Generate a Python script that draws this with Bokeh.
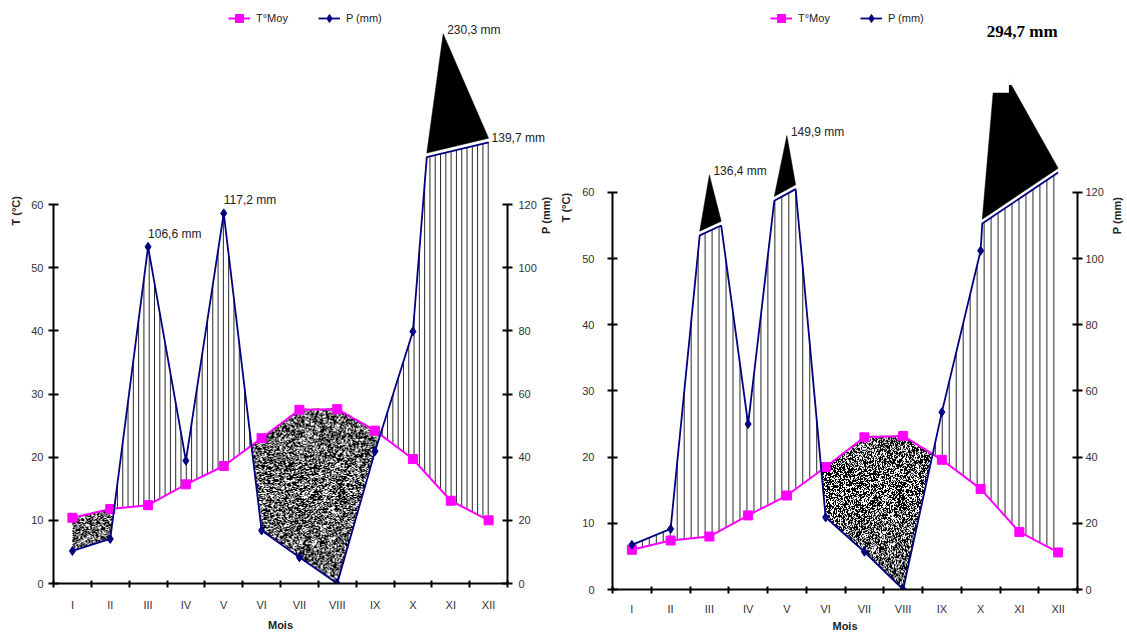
import numpy as np
from bokeh.plotting import figure
from bokeh.layouts import row
from bokeh.models import Range1d, LinearAxis, FixedTicker, Label, Legend, LegendItem
from bokeh.embed import file_html
from bokeh.resources import INLINE

MONTHS = ["I", "II", "III", "IV", "V", "VI", "VII", "VIII", "IX", "X", "XI", "XII"]

# Station 1 (left diagram): mean monthly temperature (°C) and rainfall (mm)
temp_1 = [10.4, 11.8, 12.4, 15.7, 18.6, 23.0, 27.5, 27.6, 24.2, 19.7, 13.1, 10.0]
rain_1 = [10.3, 14.1, 106.6, 38.9, 117.2, 16.8, 8.3, 0.0, 41.9, 79.8, 230.3, 139.7]
labelled_1 = [2, 4, 10, 11]

# Station 2 (right diagram)
temp_2 = [6.0, 7.4, 8.0, 11.2, 14.2, 18.5, 23.0, 23.2, 19.6, 15.2, 8.7, 5.6]
rain_2 = [13.5, 18.3, 136.4, 50.0, 149.9, 21.8, 11.4, 0.0, 53.6, 102.4, 294.7, 126.0]
labelled_2 = [2, 4, 10]

# Rainfall peaks drawn on a broken scale: month -> (level where the cut starts,
# level where it ends; None = the cut runs to the last month)
caps_1 = {10: (135.0, None)}
caps_2 = {2: (107.0, 110.0), 4: (117.5, 121.0), 10: (110.6, None)}

FONT = "Liberation Sans"
T_COLOR = "#FF00FF"
P_COLOR = "#000080"
TEXT_COLOR = "#222222"


def fmt_mm(v):
    return f"{v:.1f}".replace(".", ",") + " mm"


def clip_profile(rain, caps):
    """Rainfall polyline with the broken-scale peaks flattened by a cut line."""
    verts, cuts, kept = [], [], []
    i = 0
    while i < 12:
        if i in caps:
            a, b = caps[i]
            xl = i - 1 + (a - rain[i - 1]) / (rain[i] - rain[i - 1]) + 0.5
            if b is None:
                xr, b, nxt = 11.5, rain[11], 12
            else:
                xr = i + (rain[i] - b) / (rain[i] - rain[i + 1]) + 0.5
                nxt = i + 1
            verts += [(xl, a), (xr, b)]
            cuts.append((i, xl, a, xr, b))
            i = nxt
        else:
            verts.append((i + 0.5, rain[i]))
            kept.append(i)
            i += 1
    return verts, cuts, kept


def stipple(prof_x, prof_y, temp, cols_per_month, rows_per_mm, top):
    centers = np.arange(12) + 0.5
    ncols = int(round(11 * cols_per_month))
    nrows = int(round(top * rows_per_mm))
    xs = 0.5 + (np.arange(ncols) + 0.5) * 11.0 / ncols
    ys = (np.arange(nrows) + 0.5) * top / nrows
    wet = np.interp(xs, prof_x, prof_y)
    dry = np.interp(xs, centers, 2 * np.asarray(temp))
    inside = (ys[:, None] > wet[None, :]) & (ys[:, None] < dry[None, :])
    jj, ii = np.meshgrid(np.arange(ncols), np.arange(nrows))
    h = np.sin(jj * 12.9898 + ii * 78.233) * 43758.5453
    h = h - np.floor(h)
    shade = np.where(h < 0.58, 0, 255).astype(np.uint8)
    rgba = np.zeros((nrows, ncols, 4), dtype=np.uint8)
    rgba[..., 0] = shade
    rgba[..., 1] = shade
    rgba[..., 2] = shade
    rgba[..., 3] = np.where(inside, 255, 0).astype(np.uint8)
    return rgba.view(np.uint32).reshape(nrows, ncols)


def side_text(p, side, text, x, y, angle=0.0, **kw):
    style = dict(text_font=FONT, text_font_size="11px", text_font_style="bold",
                 text_color=TEXT_COLOR, text_align="center", text_baseline="middle")
    style.update(kw)
    p.add_layout(Label(x=x, y=y, text=text, angle=angle, **style), side)


def build_panel(temp, rain, caps, labelled, cfg):
    centers = np.arange(12) + 0.5
    t_top = cfg["t_top"]
    p = figure(title=None, frame_width=cfg["fw"], frame_height=cfg["fh"],
               x_range=Range1d(0, 12), y_range=Range1d(0, t_top),
               min_border_left=cfg["bl"], min_border_right=cfg["br"],
               min_border_top=0, min_border_bottom=cfg["bb"],
               output_backend="svg", toolbar_location=None)
    p.extra_y_ranges = {"p": Range1d(0, 2 * t_top)}
    p.outline_line_color = None
    p.xgrid.visible = False
    p.ygrid.visible = False
    p.background_fill_color = "white"

    # axes
    xa = p.xaxis[0]
    xa.ticker = FixedTicker(ticks=list(centers), minor_ticks=list(range(13)))
    xa.major_label_overrides = {float(c): m for c, m in zip(centers, MONTHS)}
    xa.major_tick_line_color = None
    xa.major_tick_out = 4
    xa.major_tick_in = 0
    xa.minor_tick_in = 3
    xa.minor_tick_out = 4
    xa.minor_tick_line_width = 2
    xa.minor_tick_line_color = "black"
    xa.major_label_standoff = cfg["xstand"]
    xa.axis_label = "Mois"
    xa.axis_label_standoff = cfg["mstand"]
    xa.axis_label_text_font = FONT
    xa.axis_label_text_font_size = "11px"
    xa.axis_label_text_font_style = "bold"
    xa.axis_label_text_color = TEXT_COLOR

    ya = p.yaxis[0]
    ya.ticker = FixedTicker(ticks=[0, 10, 20, 30, 40, 50, 60])
    ya.bounds = (0, 60)
    ya.major_label_standoff = cfg["ylstand"]

    ra = LinearAxis(y_range_name="p", ticker=FixedTicker(ticks=[0, 20, 40, 60, 80, 100, 120]),
                    bounds=(0, 120))
    ra.major_label_standoff = cfg["yrstand"]
    p.add_layout(ra, "right")

    for ax in (xa, ya, ra):
        ax.axis_line_width = 2
        ax.axis_line_color = "black"
        ax.major_label_text_font = FONT
        ax.major_label_text_font_size = "11px"
        ax.major_label_text_color = "#333333"
    for ax in (ya, ra):
        ax.major_tick_in = 5
        ax.major_tick_out = 5
        ax.major_tick_line_width = 2
        ax.major_tick_line_color = "black"
        ax.minor_tick_line_color = None

    # broken-scale rainfall profile
    verts, cuts, kept = clip_profile(rain, caps)
    vx = [v[0] for v in verts]
    vy = [v[1] for v in verts]

    # dry period (P < 2T): stippled
    top = 2 * max(temp) + 4
    img = stipple(vx, vy, temp, cfg["ppm"], cfg["ppmm"], top)
    p.image_rgba(image=[img], x=0.5, y=0, dw=11, dh=top, y_range_name="p")

    # humid period (P > 2T): vertical hatching
    hx = np.arange(0.5 + cfg["step"] * 0.5, 11.5, cfg["step"])
    lo = np.interp(hx, centers, 2 * np.asarray(temp))
    hi = np.interp(hx, vx, vy)
    keep = hi - lo > 0.6
    p.segment(x0=hx[keep], y0=lo[keep], x1=hx[keep], y1=hi[keep],
              line_color="#2a2a2a", line_width=1, y_range_name="p")

    # the part of each peak above the cut, drawn compressed
    gap = 1.3
    apexes = {}
    for (k, xl, a, xr, b) in cuts:
        cut_k = a + (b - a) * (k + 0.5 - xl) / (xr - xl)
        ay = cut_k + cfg["c"] * np.sqrt(rain[k] - cut_k)
        ax_ = k + 0.5 + cfg["shift"].get(k, 0.0)
        apexes[k] = (ax_, ay)
        p.patch(x=[xl, ax_, xr], y=[a + gap, ay, b + gap], fill_color="black",
                line_color="black", line_width=0.5, y_range_name="p")
        for (dx0, dx1, dy) in cfg["covers"].get(k, []):
            p.quad(left=ax_ + dx0, right=ax_ + dx1, bottom=ay - dy, top=2 * t_top,
                   fill_color="white", line_color=None, y_range_name="p")

    # curves
    t_line = p.line(x=centers, y=temp, line_color=T_COLOR, line_width=2)
    t_marks = p.scatter(x=centers, y=temp, marker="square", size=9,
                        fill_color=T_COLOR, line_color=T_COLOR)
    p_line = p.line(x=vx, y=vy, line_color=P_COLOR, line_width=1.8, y_range_name="p")
    p_marks = p.scatter(x=[k + 0.5 for k in kept], y=[rain[k] for k in kept],
                        marker="diamond", size=9, fill_color=P_COLOR,
                        line_color=P_COLOR, y_range_name="p")

    legend = Legend(items=[LegendItem(label="T°Moy", renderers=[t_line, t_marks]),
                           LegendItem(label="P (mm)", renderers=[p_line, p_marks])],
                    location=cfg["legend"], orientation="horizontal",
                    glyph_width=22, glyph_height=20, label_standoff=6, spacing=30,
                    padding=0, margin=0, border_line_color=None,
                    background_fill_alpha=0, label_text_font=FONT,
                    label_text_font_size="11px", label_text_color=TEXT_COLOR)
    p.add_layout(legend)

    # value labels on the rainfall peaks
    for k in labelled:
        style = dict(text_font=FONT, text_font_size="12px", text_color=TEXT_COLOR,
                     text_align="left", text_baseline="middle")
        side = None
        if k in apexes:
            x, y = apexes[k]
            dx, dy = 4, 4
            if k in cfg["bold"]:
                dx, dy = cfg["bold"][k]
                style.update(text_font="Liberation Serif", text_font_size="17px",
                             text_font_style="bold", text_color="black",
                             text_align="center")
        elif k == 11:
            # runs past the frame edge: kept in a side panel so it is not clipped
            x, y = 11.5, rain[11]
            dx, dy = 3, 4
            side = "below"
        else:
            x, y = k + 0.5, rain[k]
            dx, dy = 0, 13
        lab = Label(x=x, y=y, y_range_name="p", x_offset=dx, y_offset=dy,
                    text=fmt_mm(rain[k]), **style)
        if side:
            p.add_layout(lab, side)
        else:
            p.add_layout(lab)

    side_text(p, "left", "T (°C)", cfg["tpos"][0], cfg["tpos"][1], np.pi / 2)
    side_text(p, "right", "P (mm)", cfg["ppos"][0], cfg["ppos"][1], np.pi / 2)
    return p


cfg_1 = dict(fw=454, fh=583, bl=53, br=53, bb=50, t_top=92.3, xstand=11,
             mstand=5, ylstand=5, yrstand=6, ppm=37.83, ppmm=3.16, step=0.14, c=3.85,
             shift={10: -0.2}, covers={}, bold={}, legend=(175, 555),
             tpos=(-1.0, 59.0), ppos=(13.03, 58.3))
cfg_2 = dict(fw=465, fh=589, bl=52, br=50, bb=44, t_top=89.0, xstand=9,
             mstand=2, ylstand=13, yrstand=3, ppm=38.75, ppmm=3.31, step=0.18, c=3.2,
             shift={10: -0.6}, covers={10: [(-0.6, 0.33, 10.5), (0.33, 1.8, 8.2)]},
             bold={10: (26, 26)}, legend=(158, 561), tpos=(-1.19, 57.7),
             ppos=(13.03, 56.5))

left = build_panel(temp_1, rain_1, caps_1, labelled_1, cfg_1)
right = build_panel(temp_2, rain_2, caps_2, labelled_2, cfg_2)

page = row(left, right, spacing=0)
open("out.html", "w").write(file_html(page, INLINE))
